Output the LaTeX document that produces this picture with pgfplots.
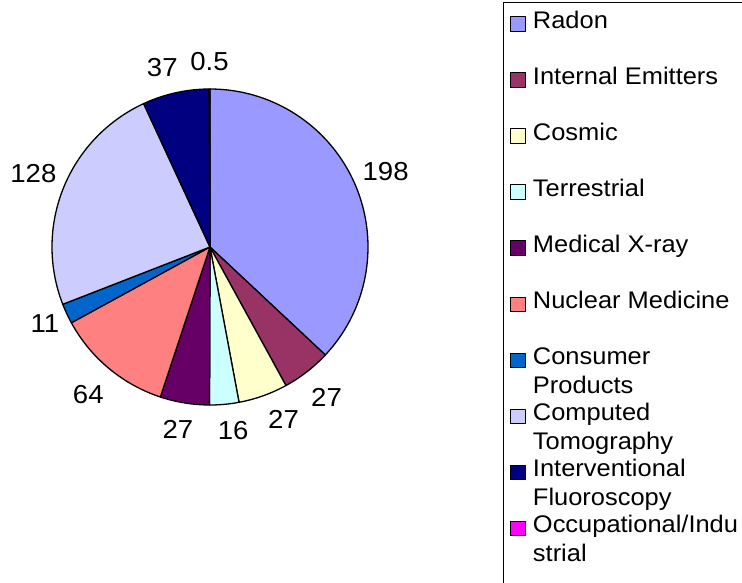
\documentclass[border=0pt]{standalone}
\usepackage{fontspec}
\setmainfont[FakeStretch=1.06]{Liberation Sans}
\usepackage{pgfplots}
\usepackage{pgfplotstable}
\pgfplotsset{compat=1.18}

\definecolor{cRadon}{HTML}{9999FF}
\definecolor{cInt}{HTML}{993366}
\definecolor{cCos}{HTML}{FFFFCC}
\definecolor{cTer}{HTML}{CCFFFF}
\definecolor{cMed}{HTML}{660066}
\definecolor{cNuc}{HTML}{FF8080}
\definecolor{cCon}{HTML}{0066CC}
\definecolor{cCT}{HTML}{CCCCFF}
\definecolor{cIF}{HTML}{000080}
\definecolor{cOcc}{HTML}{FF00FF}

% value, colour, label angle adjustment (degrees)
\pgfplotstableread{
value color ladj
198 cRadon 0
27 cInt 0
27 cCos 3.5
16 cTer 2
27 cMed -0.7
64 cNuc 0.4
11 cCon 0
128 cCT -0.6
37 cIF 2.4
0.5 cOcc 0
}\dosedata

\newcommand\sline[1]{\raisebox{0pt}[18pt][6pt]{#1}}
\newcommand\mline[2]{\raisebox{0pt}[18pt][6pt]{\begin{tabular}[t]{@{}l@{}}#1\\#2\end{tabular}}}

\begin{document}
\begin{tikzpicture}
\useasboundingbox (0,0) rectangle (742pt,582pt);
\begin{axis}[at={(210pt,335pt)}, anchor=origin, x=158pt, y=158pt,
  xmin=-1.33, xmax=3.37, ymin=-2.12, ymax=1.57, hide axis, clip=false,
  legend style={at={(0.6775,0.9947)}, anchor=north west, draw=black, line width=1pt,
    fill=white, inner xsep=7pt, inner ysep=8pt, row sep=34.8pt,
    font=\fontsize{24}{29}\selectfont, nodes={inner sep=0pt},
    /tikz/every odd column/.append style={column sep=7pt}},
  legend cell align=left,
  legend image code/.code={\draw[#1, line width=1pt] (0pt,-11pt) rectangle (14.5pt,3.5pt);},
  legend entries={\sline{Radon}, \sline{Internal Emitters}, \sline{Cosmic}, \sline{Terrestrial},
    \sline{Medical X-ray}, \sline{Nuclear Medicine}, \mline{Consumer}{Products},
    \mline{Computed}{Tomography}, \mline{Interventional}{Fluoroscopy},
    \mline{Occupational/Indu}{strial}, \rule{0pt}{8pt}},
]
\gdef\total{0}
\pgfplotsinvokeforeach{0,...,9}{
  \pgfplotstablegetelem{#1}{value}\of\dosedata
  \pgfmathsetmacro\newtotal{\total+\pgfplotsretval}
  \xdef\total{\newtotal}
}
\gdef\cum{0}
\pgfplotsinvokeforeach{0,...,9}{
  \pgfplotstablegetelem{#1}{value}\of\dosedata \let\v\pgfplotsretval
  \pgfplotstablegetelem{#1}{color}\of\dosedata \let\c\pgfplotsretval
  \pgfplotstablegetelem{#1}{ladj}\of\dosedata \let\la\pgfplotsretval
  \pgfmathsetmacro\a{90-\cum/\total*360}
  \pgfmathsetmacro\b{90-(\cum+\v)/\total*360}
  \pgfmathsetmacro\m{(\a+\b)/2+\la}
  \pgfmathsetmacro\lx{1.038*cos(\m)}
  \pgfmathsetmacro\ly{1.038*sin(\m)}
  \pgfmathsetmacro\an{mod(\m+540,360)}
  \pgfmathsetmacro\newcum{\cum+\v}
  \xdef\cum{\newcum}
  \edef\temp{\noexpand\addplot[fill=\c, draw=black, line width=1.3pt, line join=round,
      domain=\b:\a, samples=90] ({cos(x)},{sin(x)}) -- (axis cs:0,0) -- cycle;
    \noexpand\node[anchor=\an, minimum height=42pt, inner xsep=2pt, inner ysep=0pt,
      font=\noexpand\fontsize{26}{30}\noexpand\selectfont] at (axis cs:\lx,\ly) {\v};}
  \temp
}
\addlegendimage{empty legend}
\end{axis}
\end{tikzpicture}
\end{document}
